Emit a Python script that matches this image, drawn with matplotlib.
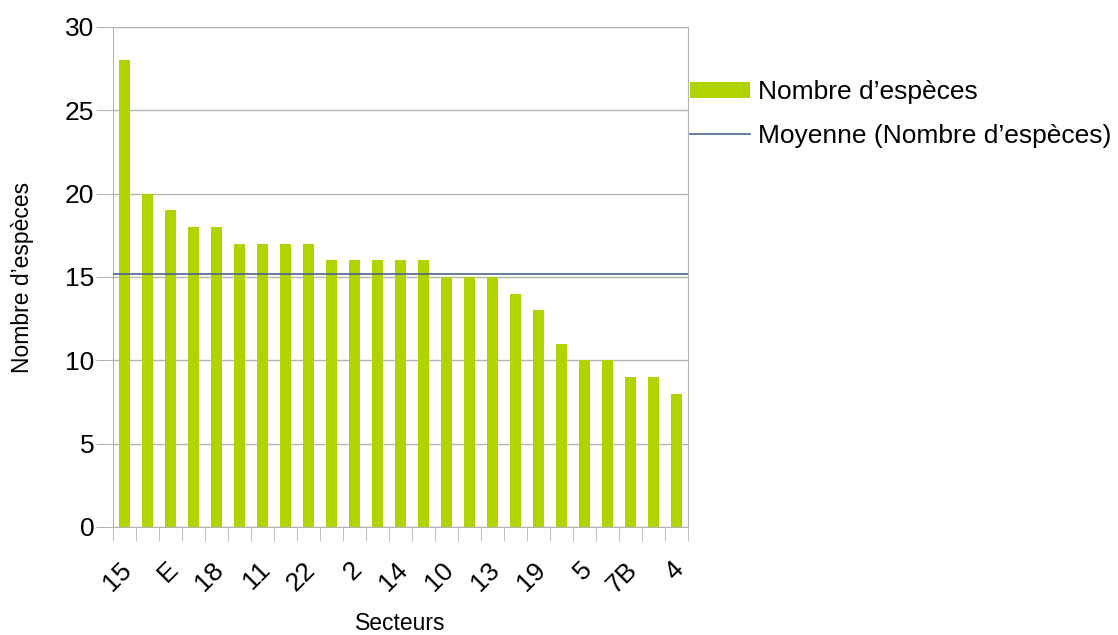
import numpy as np
import matplotlib.pyplot as plt
from matplotlib.ticker import FixedLocator

plt.rcParams['font.family'] = ['Liberation Sans', 'DejaVu Sans']

# values (one bar per sector, sorted descending)
nb_especes = [28, 20, 19, 18, 18, 17, 17, 17, 17, 16, 16, 16, 16, 16,
              15, 15, 15, 14, 13, 11, 10, 10, 9, 9, 8]
# only every second sector name is printed on the axis
labels_visibles = ["15", "E", "18", "11", "22", "2", "14", "10", "13",
                   "19", "5", "7B", "4"]

x = np.arange(len(nb_especes))
moyenne = np.mean(nb_especes)

fig = plt.figure(figsize=(11.18, 6.35), dpi=100)
ax = fig.add_axes([113 / 1118, 1 - 527 / 635, 575 / 1118, 500 / 635])

bars = ax.bar(x, nb_especes, width=0.52, color='#b2d300', zorder=2,
              label="Nombre d\u2019espèces")
ln, = ax.plot([-0.5, len(x) - 0.5], [moyenne, moyenne], color='#47678f',
              lw=1.2, zorder=3, label="Moyenne (Nombre d\u2019espèces)")

ax.set_xlim(-0.5, len(x) - 0.5)
ax.set_ylim(0, 30)
ax.set_yticks(range(0, 31, 5))
ax.yaxis.grid(True, color='#b3b3b3', lw=1, zorder=0)
for s in ['left', 'right', 'bottom']:
    ax.spines[s].set_color('#b3b3b3')
ax.spines['top'].set_visible(False)

ax.set_xticks(x[::2] + 0.15)
ax.set_xticklabels(labels_visibles, rotation=45, ha='right', va='center',
                   rotation_mode='anchor', fontsize=19)
ax.xaxis.set_minor_locator(FixedLocator(np.arange(-0.5, len(x), 1)))
ax.tick_params(axis='x', which='major', length=0, pad=28)
ax.tick_params(axis='x', which='minor', length=10, color='#b3b3b3')
ax.tick_params(axis='y', length=12, color='#b3b3b3', labelsize=19, pad=1.5)

ax.set_xlabel("Secteurs", fontsize=16.5)
ax.xaxis.set_label_coords(0.5, -0.17)
ax.set_ylabel("Nombre d\u2019espèces", fontsize=16.5)
ax.yaxis.set_label_coords(-0.137, 0.5)

fig.legend(handles=[bars, ln], loc='upper left',
           bbox_to_anchor=(690 / 1118, 1 - 80 / 635), frameon=False,
           fontsize=19, handlelength=2.27, handleheight=0.55,
           labelspacing=0.75, handletextpad=0.3,
           borderpad=0, borderaxespad=0)

fig.savefig('out.png', dpi=100)
